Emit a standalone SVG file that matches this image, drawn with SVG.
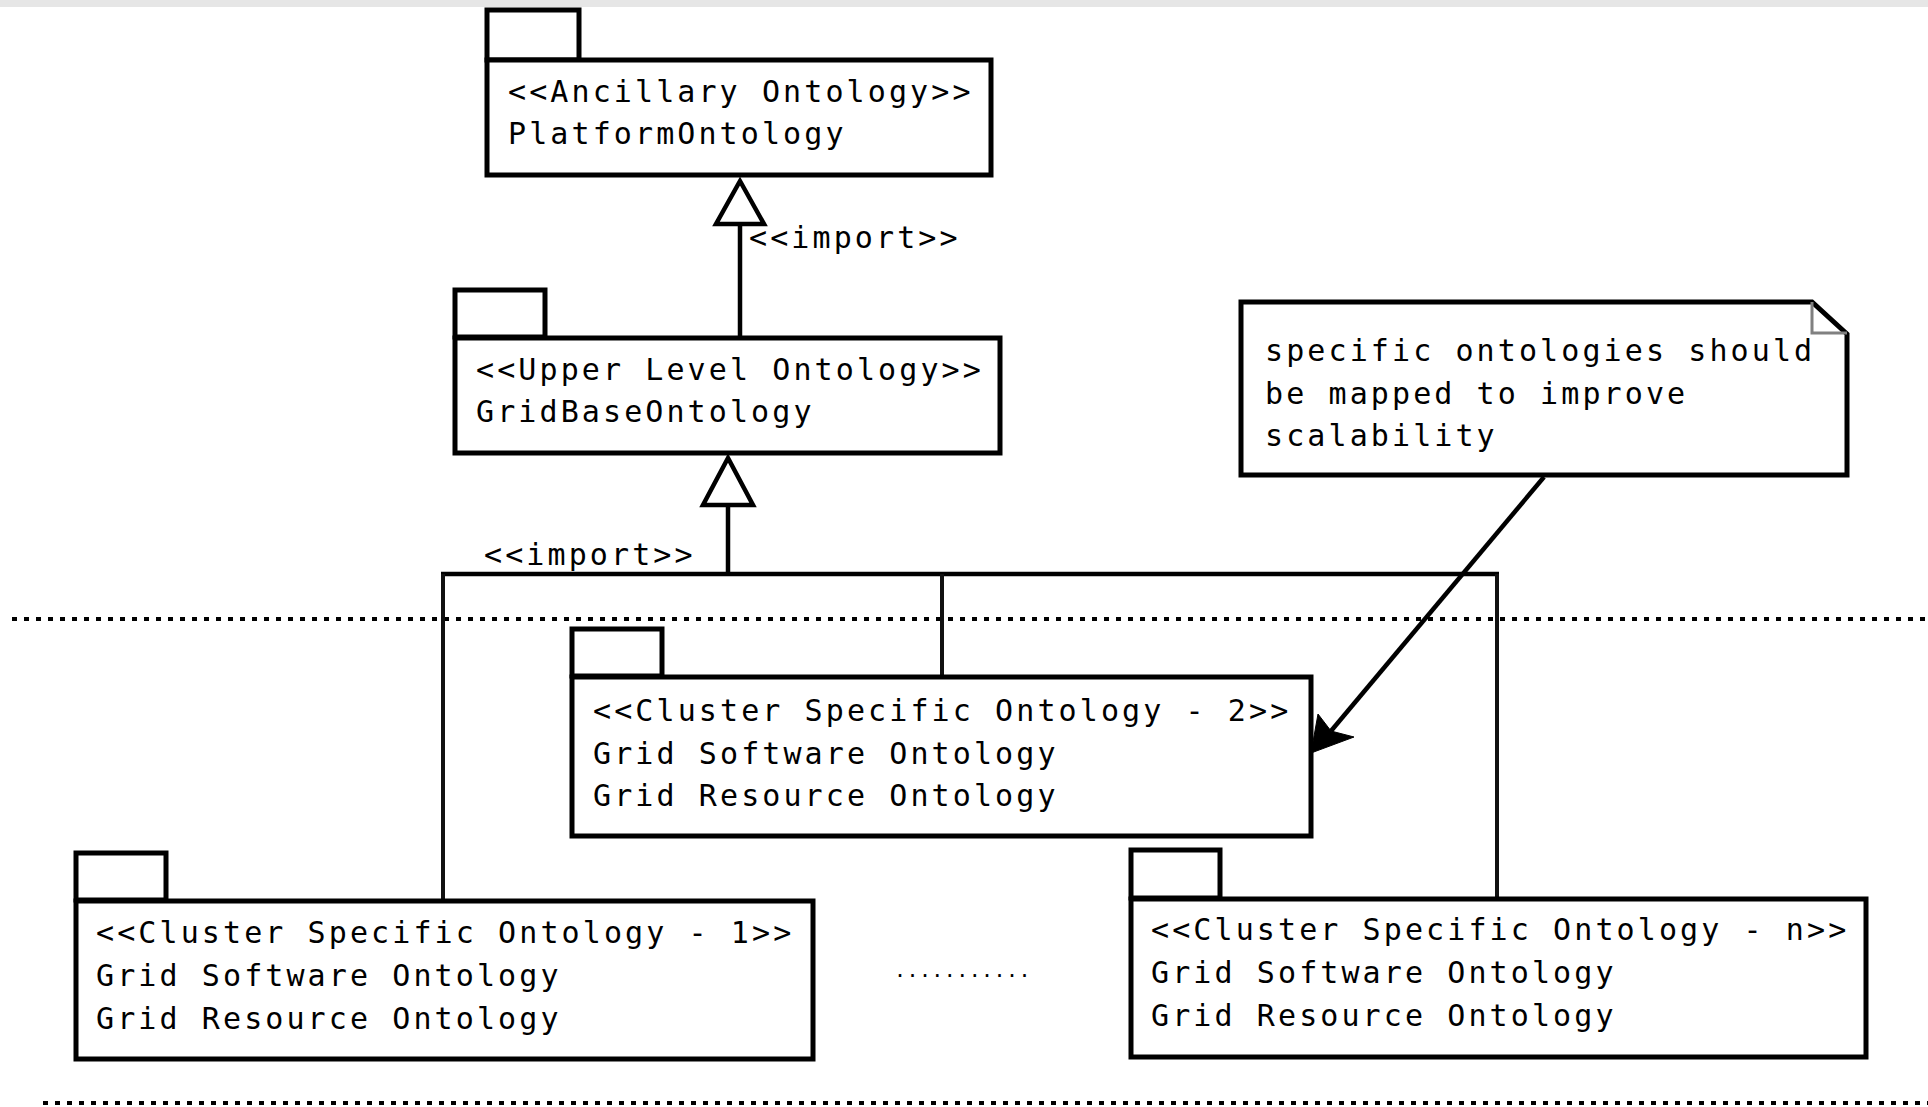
<svg xmlns="http://www.w3.org/2000/svg" width="1928" height="1107" viewBox="0 0 1928 1107">
<style>
.box{fill:#fff;stroke:#000;stroke-width:5}
.tx{font-family:"DejaVu Sans Mono","Liberation Mono",monospace;font-size:30px;letter-spacing:3.1px;fill:#000}
.dots{font-family:"DejaVu Sans Mono","Liberation Mono",monospace;font-size:20px;letter-spacing:0.4px;fill:#000}
.ln{fill:none;stroke:#000;stroke-width:4.5}
.vl{fill:none;stroke:#111;stroke-width:4}
.sep{fill:none;stroke:#000;stroke-width:4;stroke-dasharray:5 7}
.tri{fill:#fff;stroke:#000;stroke-width:4.5;stroke-linejoin:miter}
</style>
<rect x="0" y="0" width="1928" height="1107" fill="#fff"/>
<rect x="0" y="0" width="1928" height="7" fill="#e6e6e6"/>
<g id="separators">
<line class="sep" x1="12" y1="619" x2="1928" y2="619"/>
<line class="sep" x1="43" y1="1103" x2="1928" y2="1103"/>
</g>
<g id="connectors">
<line class="ln" x1="740" y1="336" x2="740" y2="224"/>
<polygon class="tri" points="740,181 716,224 764,224"/>
<text class="tx" x="749" y="248">&lt;&lt;import&gt;&gt;</text>
<line class="ln" x1="728" y1="574" x2="728" y2="505"/>
<polygon class="tri" points="728,458 703,505 753,505"/>
<text class="tx" x="484" y="565">&lt;&lt;import&gt;&gt;</text>
<line class="ln" x1="441" y1="574" x2="1499" y2="574"/>
<line class="vl" x1="443" y1="574" x2="443" y2="901"/>
<line class="vl" x1="942" y1="574" x2="942" y2="677"/>
<line class="vl" x1="1497" y1="574" x2="1497" y2="899"/>
<line class="ln" x1="1544" y1="477" x2="1331" y2="731"/>
<polygon points="1311,753 1318,714 1331,731 1354,737" fill="#000" stroke="#000" stroke-width="1"/>
</g>
<g id="ancillary">
<rect class="box" x="487" y="10" width="92" height="50"/>
<rect class="box" x="487" y="60" width="504" height="115"/>
<text class="tx" x="508" y="102">&lt;&lt;Ancillary Ontology&gt;&gt;</text>
<text class="tx" x="508" y="144">PlatformOntology</text>
</g>
<g id="upper">
<rect class="box" x="455" y="290" width="90" height="47"/>
<rect class="box" x="455" y="338" width="545" height="115"/>
<text class="tx" x="476" y="380">&lt;&lt;Upper Level Ontology&gt;&gt;</text>
<text class="tx" x="476" y="422">GridBaseOntology</text>
</g>
<g id="note">
<path d="M1241,302 H1812 L1847,334 V475 H1241 Z" fill="#fff" stroke="#000" stroke-width="5"/>
<path d="M1812,302 V333 H1847" fill="none" stroke="#808080" stroke-width="3"/>
<text class="tx" x="1265" y="361">specific ontologies should</text>
<text class="tx" x="1265" y="404">be mapped to improve</text>
<text class="tx" x="1265" y="446">scalability</text>
</g>
<g id="cluster2">
<rect class="box" x="572" y="629" width="90" height="47" stroke="#1a1a1a"/>
<rect class="box" x="572" y="677" width="739" height="159" stroke="#1a1a1a"/>
<text class="tx" x="593" y="721">&lt;&lt;Cluster Specific Ontology - 2&gt;&gt;</text>
<text class="tx" x="593" y="764">Grid Software Ontology</text>
<text class="tx" x="593" y="806">Grid Resource Ontology</text>
</g>
<g id="cluster1">
<rect class="box" x="76" y="853" width="90" height="47"/>
<rect class="box" x="76" y="901" width="737" height="158"/>
<text class="tx" x="96" y="943">&lt;&lt;Cluster Specific Ontology - 1&gt;&gt;</text>
<text class="tx" x="96" y="986">Grid Software Ontology</text>
<text class="tx" x="96" y="1029">Grid Resource Ontology</text>
</g>
<g id="clustern">
<rect class="box" x="1131" y="850" width="89" height="48"/>
<rect class="box" x="1131" y="899" width="735" height="158"/>
<text class="tx" x="1151" y="940">&lt;&lt;Cluster Specific Ontology - n&gt;&gt;</text>
<text class="tx" x="1151" y="983">Grid Software Ontology</text>
<text class="tx" x="1151" y="1026">Grid Resource Ontology</text>
</g>
<text class="dots" x="894" y="977">...........</text>
</svg>
